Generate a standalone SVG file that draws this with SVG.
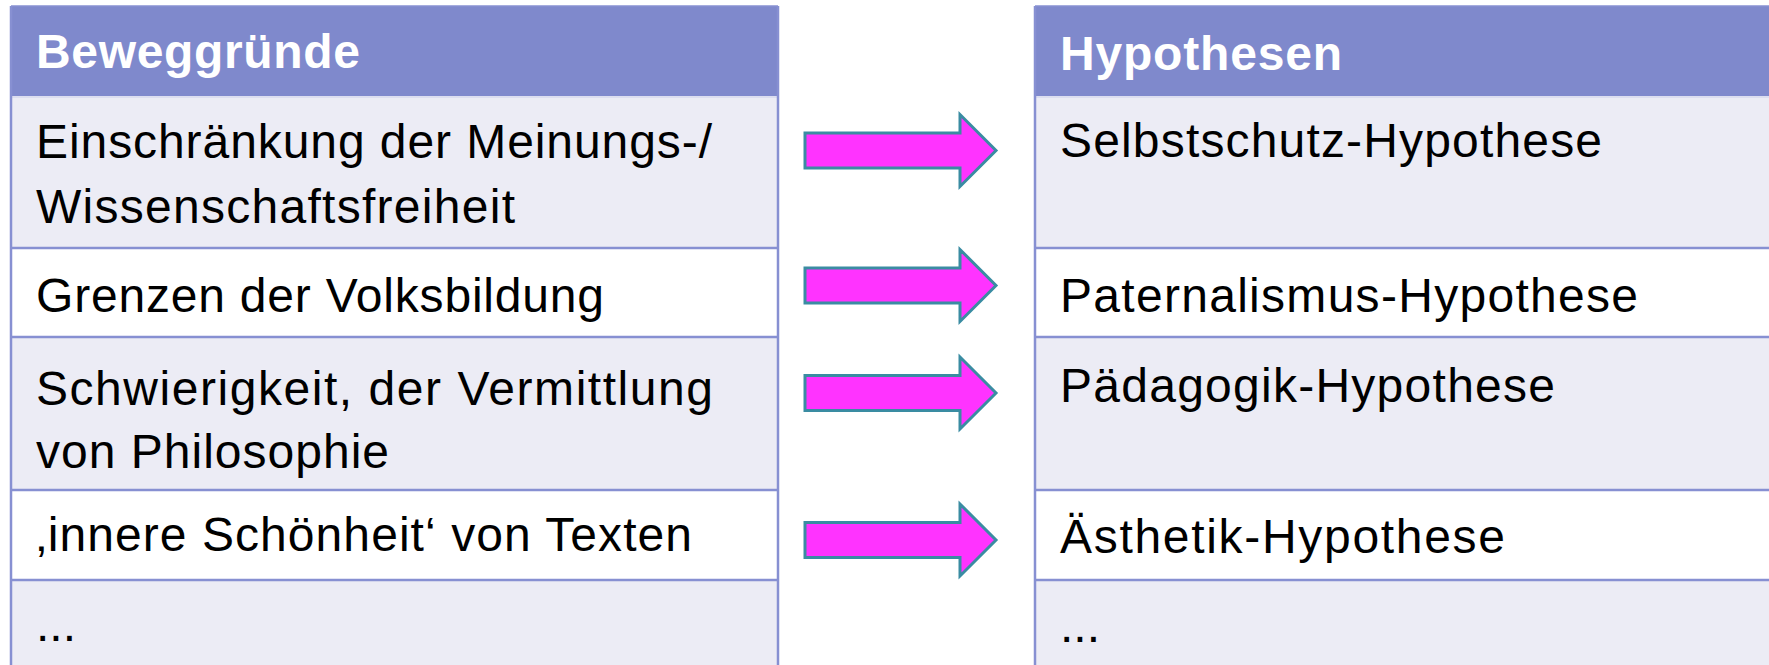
<svg xmlns="http://www.w3.org/2000/svg" width="1769" height="665" viewBox="0 0 1769 665">
<defs>
<style>
.hdr{fill:#7F89CC}
.alt{fill:#ECECF5}
.wht{fill:#FFFFFF}
.line{stroke:#8790D2;stroke-width:2.5;fill:none}
.hline{stroke:#DCDEF0;stroke-width:2;fill:none}
.t{font-family:"Liberation Sans",Arial,sans-serif;font-size:48px;fill:#000}
.h{font-family:"Liberation Sans",Arial,sans-serif;font-size:48px;font-weight:bold;fill:#FFFFFF}
.arrow{fill:#FF33FF;stroke:#3A8CA2;stroke-width:3;stroke-linejoin:miter}
</style>
<polygon id="arr" class="arrow" points="805,-17.5 960,-17.5 960,-36 996,0 960,36 960,17.5 805,17.5"/>
</defs>
<rect width="1769" height="665" fill="#FFFFFF"/>

<g id="left-table">
<rect class="hdr" x="11" y="6" width="767" height="91"/>
<rect class="alt" x="11" y="97" width="767" height="151"/>
<rect class="wht" x="11" y="248" width="767" height="89"/>
<rect class="alt" x="11" y="337" width="767" height="153"/>
<rect class="wht" x="11" y="490" width="767" height="90"/>
<rect class="alt" x="11" y="580" width="767" height="85"/>
<line class="hline" x1="11" y1="97" x2="778" y2="97"/>
<line class="line" x1="11" y1="248" x2="778" y2="248"/>
<line class="line" x1="11" y1="337" x2="778" y2="337"/>
<line class="line" x1="11" y1="490" x2="778" y2="490"/>
<line class="line" x1="11" y1="580" x2="778" y2="580"/>
<line class="line" x1="11" y1="6" x2="11" y2="665"/>
<line class="line" x1="778" y1="6" x2="778" y2="665"/>
<line class="line" x1="11" y1="6" x2="778" y2="6" style="stroke-width:1.5"/>
</g>

<g id="left-texts">
<text class="h" x="36" y="68" textLength="324" lengthAdjust="spacing">Beweggründe</text>
<text class="t" x="36" y="158" textLength="676" lengthAdjust="spacing">Einschränkung der Meinungs-/</text>
<text class="t" x="36" y="223" textLength="479" lengthAdjust="spacing">Wissenschaftsfreiheit</text>
<text class="t" x="36" y="312" textLength="568" lengthAdjust="spacing">Grenzen der Volksbildung</text>
<text class="t" x="36" y="405" textLength="677" lengthAdjust="spacing">Schwierigkeit, der Vermittlung</text>
<text class="t" x="36" y="468" textLength="353" lengthAdjust="spacing">von Philosophie</text>
<text class="t" x="36" y="551" textLength="656" lengthAdjust="spacing">‚innere Schönheit‘ von Texten</text>
<text class="t" x="36" y="641">...</text>
</g>

<g id="right-table">
<rect class="hdr" x="1035" y="6" width="734" height="91"/>
<rect class="alt" x="1035" y="97" width="734" height="151"/>
<rect class="wht" x="1035" y="248" width="734" height="89"/>
<rect class="alt" x="1035" y="337" width="734" height="153"/>
<rect class="wht" x="1035" y="490" width="734" height="90"/>
<rect class="alt" x="1035" y="580" width="734" height="85"/>
<line class="hline" x1="1035" y1="97" x2="1769" y2="97"/>
<line class="line" x1="1035" y1="248" x2="1769" y2="248"/>
<line class="line" x1="1035" y1="337" x2="1769" y2="337"/>
<line class="line" x1="1035" y1="490" x2="1769" y2="490"/>
<line class="line" x1="1035" y1="580" x2="1769" y2="580"/>
<line class="line" x1="1035" y1="6" x2="1035" y2="665"/>
<line class="line" x1="1035" y1="6" x2="1769" y2="6" style="stroke-width:1.5"/>
</g>

<g id="right-texts">
<text class="h" x="1060" y="70" textLength="282" lengthAdjust="spacing">Hypothesen</text>
<text class="t" x="1060" y="157" textLength="542" lengthAdjust="spacing">Selbstschutz-Hypothese</text>
<text class="t" x="1060" y="312" textLength="578" lengthAdjust="spacing">Paternalismus-Hypothese</text>
<text class="t" x="1060" y="402" textLength="495" lengthAdjust="spacing">Pädagogik-Hypothese</text>
<text class="t" x="1060" y="553" textLength="445" lengthAdjust="spacing">Ästhetik-Hypothese</text>
<text class="t" x="1060" y="642">...</text>
</g>

<g id="connectors">
<use href="#arr" transform="translate(0,150.5)"/>
<use href="#arr" transform="translate(0,285.5)"/>
<use href="#arr" transform="translate(0,393)"/>
<use href="#arr" transform="translate(0,540)"/>
</g>
</svg>
